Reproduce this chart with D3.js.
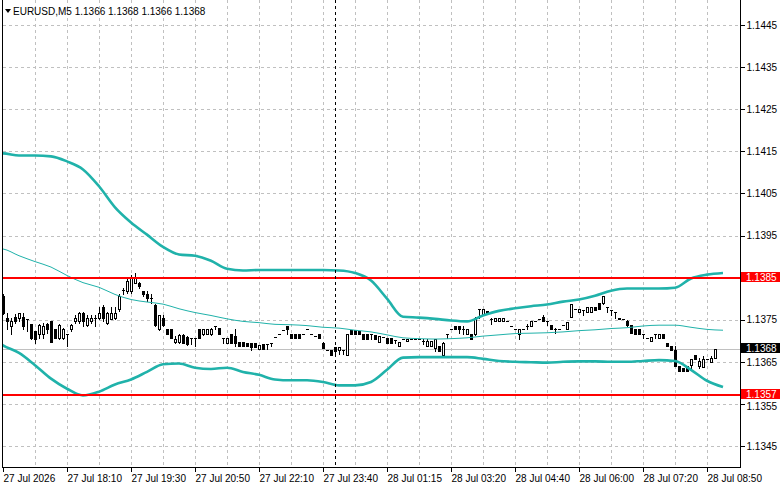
<!DOCTYPE html>
<html>
<head>
<meta charset="utf-8">
<script src="https://cdnjs.cloudflare.com/ajax/libs/d3/7.8.5/d3.min.js"></script>
<style>
  html, body { margin: 0; padding: 0; background: #fff; }
  svg { display: block; font-family: "Liberation Sans", Arial, sans-serif; }
</style>
</head>
<body>
<svg id="chart" width="781" height="489"></svg>
<script>
// EURUSD M5 bars: [open, high, low, close]
var candles = [
	[1.13807,1.13810,1.13764,1.13767],[1.13755,1.13767,1.13729,1.13748],[1.13736,1.13755,1.13717,1.13748],
	[1.13757,1.13764,1.13743,1.13748],[1.13755,1.13767,1.13748,1.13767],[1.13757,1.13767,1.13729,1.13736],
	[1.13752,1.13752,1.13724,1.13752],[1.13740,1.13740,1.13705,1.13707],[1.13724,1.13724,1.13695,1.13705],
	[1.13717,1.13740,1.13707,1.13738],[1.13717,1.13743,1.13707,1.13736],[1.13740,1.13743,1.13719,1.13729],
	[1.13748,1.13748,1.13698,1.13698],[1.13729,1.13729,1.13707,1.13707],[1.13707,1.13740,1.13705,1.13738],
	[1.13707,1.13731,1.13705,1.13729],[1.13717,1.13717,1.13688,1.13717],[1.13729,1.13740,1.13724,1.13738],
	[1.13748,1.13760,1.13743,1.13755],[1.13748,1.13769,1.13743,1.13767],[1.13767,1.13769,1.13736,1.13748],
	[1.13738,1.13760,1.13736,1.13755],[1.13748,1.13760,1.13743,1.13755],[1.13755,1.13760,1.13736,1.13755],
	[1.13755,1.13779,1.13752,1.13767],[1.13779,1.13786,1.13748,1.13755],[1.13743,1.13769,1.13740,1.13767],
	[1.13752,1.13779,1.13752,1.13767],[1.13755,1.13779,1.13752,1.13767],[1.13776,1.13810,1.13771,1.13807],
	[1.13821,1.13826,1.13812,1.13821],[1.13819,1.13850,1.13814,1.13843],[1.13819,1.13855,1.13814,1.13848],
	[1.13838,1.13860,1.13836,1.13848],[1.13838,1.13840,1.13826,1.13829],[1.13819,1.13819,1.13807,1.13810],
	[1.13812,1.13817,1.13795,1.13802],[1.13802,1.13810,1.13790,1.13802],[1.13786,1.13788,1.13736,1.13738],
	[1.13729,1.13762,1.13726,1.13760],[1.13755,1.13760,1.13736,1.13738],[1.13729,1.13729,1.13717,1.13717],
	[1.13729,1.13729,1.13707,1.13707],[1.13698,1.13712,1.13695,1.13705],[1.13698,1.13717,1.13695,1.13714],
	[1.13714,1.13717,1.13695,1.13695],[1.13710,1.13712,1.13690,1.13693],[1.13707,1.13707,1.13693,1.13707],
	[1.13707,1.13707,1.13688,1.13707],[1.13729,1.13729,1.13707,1.13707],[1.13717,1.13729,1.13714,1.13729],
	[1.13717,1.13729,1.13717,1.13729],[1.13717,1.13731,1.13714,1.13729],[1.13736,1.13736,1.13729,1.13736],
	[1.13731,1.13731,1.13717,1.13717],[1.13707,1.13707,1.13695,1.13707],[1.13695,1.13707,1.13695,1.13707],
	[1.13717,1.13717,1.13695,1.13695],[1.13712,1.13729,1.13688,1.13695],[1.13698,1.13698,1.13688,1.13688],
	[1.13698,1.13698,1.13688,1.13688],[1.13695,1.13695,1.13688,1.13688],[1.13695,1.13695,1.13679,1.13686],
	[1.13695,1.13695,1.13686,1.13686],[1.13681,1.13690,1.13681,1.13690],[1.13693,1.13693,1.13681,1.13681],
	[1.13693,1.13693,1.13681,1.13693],[1.13695,1.13695,1.13688,1.13695],[1.13710,1.13710,1.13710,1.13710],
	[1.13717,1.13717,1.13717,1.13717],[1.13726,1.13726,1.13726,1.13726],[1.13736,1.13736,1.13717,1.13729],
	[1.13717,1.13717,1.13707,1.13707],[1.13717,1.13717,1.13707,1.13707],[1.13717,1.13717,1.13707,1.13707],
	[1.13717,1.13717,1.13717,1.13717],[1.13729,1.13729,1.13729,1.13729],[1.13717,1.13717,1.13717,1.13717],
	[1.13712,1.13712,1.13712,1.13712],[1.13717,1.13717,1.13707,1.13707],[1.13695,1.13698,1.13683,1.13683],
	[1.13679,1.13679,1.13679,1.13679],[1.13679,1.13679,1.13667,1.13667],[1.13676,1.13686,1.13667,1.13686],
	[1.13679,1.13686,1.13669,1.13686],[1.13679,1.13679,1.13669,1.13679],[1.13667,1.13717,1.13667,1.13717],
	[1.13726,1.13726,1.13717,1.13717],[1.13726,1.13726,1.13717,1.13717],[1.13724,1.13724,1.13717,1.13717],
	[1.13717,1.13717,1.13705,1.13705],[1.13717,1.13717,1.13705,1.13705],[1.13717,1.13717,1.13705,1.13717],
	[1.13714,1.13714,1.13705,1.13705],[1.13698,1.13712,1.13698,1.13712],[1.13710,1.13710,1.13710,1.13710],
	[1.13707,1.13707,1.13695,1.13695],[1.13707,1.13707,1.13695,1.13695],[1.13702,1.13702,1.13695,1.13702],
	[1.13688,1.13698,1.13688,1.13698],[1.13705,1.13705,1.13705,1.13705],[1.13700,1.13705,1.13700,1.13705],
	[1.13705,1.13705,1.13705,1.13705],[1.13705,1.13705,1.13705,1.13705],[1.13705,1.13705,1.13705,1.13705],
	[1.13700,1.13705,1.13693,1.13700],[1.13688,1.13705,1.13688,1.13700],[1.13688,1.13700,1.13688,1.13700],
	[1.13683,1.13705,1.13676,1.13705],[1.13688,1.13688,1.13676,1.13676],[1.13667,1.13698,1.13667,1.13695],
	[1.13717,1.13717,1.13707,1.13717],[1.13729,1.13729,1.13729,1.13729],[1.13736,1.13736,1.13729,1.13729],
	[1.13736,1.13736,1.13719,1.13729],[1.13729,1.13736,1.13717,1.13729],[1.13717,1.13729,1.13717,1.13729],
	[1.13717,1.13717,1.13705,1.13705],[1.13717,1.13757,1.13714,1.13755],[1.13776,1.13776,1.13755,1.13776],
	[1.13764,1.13776,1.13764,1.13776],[1.13771,1.13771,1.13764,1.13764],[1.13752,1.13755,1.13740,1.13752],
	[1.13748,1.13755,1.13748,1.13755],[1.13748,1.13755,1.13748,1.13755],[1.13748,1.13755,1.13748,1.13755],
	[1.13748,1.13748,1.13748,1.13748],[1.13736,1.13736,1.13736,1.13736],[1.13729,1.13729,1.13729,1.13729],
	[1.13717,1.13729,1.13705,1.13729],[1.13729,1.13729,1.13729,1.13729],[1.13736,1.13740,1.13729,1.13736],
	[1.13736,1.13748,1.13736,1.13748],[1.13748,1.13748,1.13748,1.13748],[1.13752,1.13752,1.13752,1.13752],
	[1.13757,1.13762,1.13748,1.13748],[1.13748,1.13748,1.13738,1.13748],[1.13738,1.13738,1.13729,1.13729],
	[1.13729,1.13731,1.13719,1.13729],[1.13729,1.13729,1.13729,1.13729],[1.13738,1.13738,1.13738,1.13738],
	[1.13729,1.13745,1.13729,1.13745],[1.13757,1.13788,1.13757,1.13788],[1.13776,1.13776,1.13776,1.13776],
	[1.13769,1.13776,1.13769,1.13776],[1.13774,1.13774,1.13762,1.13774],[1.13769,1.13779,1.13769,1.13779],
	[1.13769,1.13779,1.13769,1.13779],[1.13781,1.13781,1.13774,1.13774],[1.13790,1.13790,1.13776,1.13776],
	[1.13790,1.13807,1.13788,1.13807],[1.13779,1.13779,1.13769,1.13779],[1.13774,1.13774,1.13762,1.13774],
	[1.13769,1.13769,1.13755,1.13769],[1.13755,1.13755,1.13752,1.13752],[1.13752,1.13752,1.13752,1.13752],
	[1.13748,1.13750,1.13736,1.13738],[1.13738,1.13738,1.13719,1.13719],[1.13729,1.13729,1.13717,1.13717],
	[1.13729,1.13729,1.13717,1.13717],[1.13717,1.13717,1.13707,1.13717],[1.13707,1.13707,1.13707,1.13707],
	[1.13700,1.13710,1.13700,1.13710],[1.13717,1.13717,1.13707,1.13717],[1.13707,1.13717,1.13707,1.13717],
	[1.13717,1.13717,1.13707,1.13707],[1.13695,1.13695,1.13688,1.13688],[1.13688,1.13688,1.13679,1.13679],
	[1.13679,1.13688,1.13640,1.13640],[1.13640,1.13640,1.13629,1.13629],[1.13636,1.13636,1.13629,1.13629],
	[1.13640,1.13640,1.13629,1.13629],[1.13643,1.13657,1.13631,1.13657],[1.13667,1.13667,1.13657,1.13657],
	[1.13640,1.13660,1.13636,1.13652],[1.13638,1.13664,1.13638,1.13657],[1.13657,1.13657,1.13657,1.13657],
	[1.13650,1.13664,1.13650,1.13660],[1.13660,1.13680,1.13660,1.13680]
];

// Bollinger bands at these bar indices
var bandIdx = [-1, 0, 4, 8, 12, 16, 20, 24, 28, 32, 36, 40, 44, 48, 52, 56, 60, 64, 68, 72, 76, 80, 84, 88,
	92, 96, 100, 104, 108, 112, 116, 120, 124, 128, 132, 136, 140, 144, 148, 152, 156, 160, 164, 168, 172, 176, 180];
var bandUpper = [1.14145, 1.14145, 1.14140, 1.14140, 1.14138, 1.14126, 1.14107, 1.14067, 1.14017, 1.13981,
	1.13952, 1.13923, 1.13905, 1.13902, 1.13890, 1.13871, 1.13867, 1.13868, 1.13868, 1.13868,
	1.13868, 1.13868, 1.13867, 1.13861, 1.13843, 1.13800, 1.13757, 1.13755, 1.13752, 1.13748,
	1.13746, 1.13760, 1.13771, 1.13777, 1.13782, 1.13786, 1.13793, 1.13798, 1.13807, 1.13819,
	1.13824, 1.13824, 1.13824, 1.13826, 1.13848, 1.13857, 1.13861];
var bandMiddle = [1.13919, 1.13918, 1.13902, 1.13888, 1.13875, 1.13855, 1.13838, 1.13827, 1.13810, 1.13798,
	1.13792, 1.13787, 1.13776, 1.13767, 1.13760, 1.13752, 1.13746, 1.13743, 1.13739, 1.13738,
	1.13736, 1.13732, 1.13730, 1.13725, 1.13721, 1.13714, 1.13707, 1.13705, 1.13704, 1.13705,
	1.13707, 1.13711, 1.13714, 1.13717, 1.13718, 1.13719, 1.13721, 1.13724, 1.13726, 1.13729,
	1.13731, 1.13735, 1.13737, 1.13737, 1.13732, 1.13727, 1.13725];
var bandLower = [1.13695, 1.13689, 1.13671, 1.13642, 1.13610, 1.13586, 1.13570, 1.13579, 1.13596, 1.13608,
	1.13626, 1.13644, 1.13646, 1.13636, 1.13633, 1.13636, 1.13626, 1.13619, 1.13608, 1.13606,
	1.13606, 1.13602, 1.13594, 1.13594, 1.13602, 1.13631, 1.13660, 1.13661, 1.13661, 1.13661,
	1.13661, 1.13657, 1.13652, 1.13650, 1.13649, 1.13648, 1.13650, 1.13651, 1.13651, 1.13650,
	1.13650, 1.13652, 1.13654, 1.13652, 1.13631, 1.13605, 1.13590];

var timeIdx = [0, 16, 32, 48, 64, 80, 96, 112, 128, 144, 160, 176];
var timeLabels = ["27 Jul 2026", "27 Jul 18:10", "27 Jul 19:30", "27 Jul 20:50", "27 Jul 22:10", "27 Jul 23:40",
	"28 Jul 01:15", "28 Jul 03:20", "28 Jul 04:40", "28 Jul 06:00", "28 Jul 07:20", "28 Jul 08:50"];
var priceTicks = [1.1445, 1.1435, 1.1425, 1.1415, 1.1405, 1.1395, 1.1385, 1.1375, 1.1365, 1.1355, 1.1345];
var levels = [1.1385, 1.1357];
var lastPrice = 1.1368;
var markerIdx = 83;
var title = "EURUSD,M5  1.1366 1.1368 1.1366 1.1368";

function drawChart() {
	var svg = d3.select("#chart"),
		pLeft = 2, pRight = 740, pTop = 0, pBottom = 467;

	var x = d3.scaleLinear().domain([0, 184]).range([3, 739]);
	var y = d3.scaleLinear().domain([1.1345, 1.1445]).range([446, 25]);
	var py = function(p) { return Math.round(y(p)) + 0.5; };

	svg.append("defs").append("clipPath").attr("id", "plot")
		.append("rect").attr("x", pLeft + 1).attr("y", pTop).attr("width", pRight - pLeft - 1).attr("height", pBottom - pTop);

	// grid
	var grid = svg.append("g").attr("stroke", "#c0c0c0").attr("stroke-dasharray", "3,3").attr("shape-rendering", "crispEdges");
	grid.selectAll(".gy").data(priceTicks).enter().append("line")
		.attr("x1", pLeft + 1).attr("x2", pRight).attr("y1", py).attr("y2", py);
	grid.selectAll(".gx").data(d3.range(8, 184, 8)).enter().append("line")
		.attr("x1", function(d) { return x(d) + 0.5; }).attr("x2", function(d) { return x(d) + 0.5; })
		.attr("y1", pTop).attr("y2", pBottom);

	// last price line
	svg.append("line").attr("x1", pLeft + 1).attr("x2", pRight).attr("y1", py(lastPrice)).attr("y2", py(lastPrice))
		.attr("stroke", "#c0c0c0").attr("shape-rendering", "crispEdges");

	// candles
	var bars = svg.append("g").attr("clip-path", "url(#plot)").attr("shape-rendering", "crispEdges");
	candles.forEach(function(c, i) {
		var cx = Math.round(x(i));
		var o = Math.round(y(c[0])), h = Math.round(y(c[1])), l = Math.round(y(c[2])), cl = Math.round(y(c[3]));
		if (l > h) {
			bars.append("line").attr("x1", cx + 0.5).attr("x2", cx + 0.5).attr("y1", h).attr("y2", l + 1).attr("stroke", "#000");
		}
		if (o === cl) {
			bars.append("line").attr("x1", cx - 1).attr("x2", cx + 2).attr("y1", o + 0.5).attr("y2", o + 0.5).attr("stroke", "#000");
		} else if (cl < o) {
			bars.append("rect").attr("x", cx - 0.5).attr("y", cl + 0.5).attr("width", 2).attr("height", o - cl)
				.attr("fill", "#fff").attr("stroke", "#000");
		} else {
			bars.append("rect").attr("x", cx - 1).attr("y", o).attr("width", 3).attr("height", cl - o + 1).attr("fill", "#000");
		}
	});

	// bollinger bands
	var bands = svg.append("g").attr("clip-path", "url(#plot)").attr("fill", "none").attr("stroke", "#20b2aa");
	function bandLine(vals) {
		return d3.line().x(function(d, i) { return x(bandIdx[i]); }).y(function(d) { return y(d); })
			.curve(d3.curveMonotoneX)(vals);
	}
	bands.append("path").attr("d", bandLine(bandUpper)).attr("stroke-width", 2.6);
	bands.append("path").attr("d", bandLine(bandLower)).attr("stroke-width", 2.6);
	bands.append("path").attr("d", bandLine(bandMiddle)).attr("stroke-width", 1);

	// horizontal levels
	svg.selectAll(".lvl").data(levels).enter().append("line")
		.attr("x1", pLeft + 1).attr("x2", pRight).attr("y1", function(d) { return Math.round(y(d)); })
		.attr("y2", function(d) { return Math.round(y(d)); })
		.attr("stroke", "#ff0000").attr("stroke-width", 2).attr("shape-rendering", "crispEdges");

	// vertical marker
	svg.append("line").attr("x1", x(markerIdx) + 0.5).attr("x2", x(markerIdx) + 0.5).attr("y1", pTop).attr("y2", pBottom)
		.attr("stroke", "#000").attr("stroke-dasharray", "3,3").attr("shape-rendering", "crispEdges");

	// frame
	svg.append("path").attr("d", "M" + (pLeft + 0.5) + "," + pTop + "V" + (pBottom + 0.5) + "H" + (pRight + 0.5) + "V" + pTop)
		.attr("fill", "none").attr("stroke", "#000").attr("shape-rendering", "crispEdges");

	// time axis
	var xAxis = svg.append("g").attr("transform", "translate(0," + (pBottom + 0.5) + ")")
		.call(d3.axisBottom(x).tickValues(timeIdx).tickSize(4).tickSizeOuter(0)
			.tickFormat(function(d, i) { return timeLabels[i]; }));
	xAxis.select(".domain").remove();
	xAxis.selectAll(".tick line").attr("stroke", "#000").attr("shape-rendering", "crispEdges");
	xAxis.selectAll(".tick text").attr("text-anchor", "start").attr("x", 0).attr("y", 7)
		.attr("fill", "#000").style("font-size", "10px").style("font-family", "Liberation Sans, Arial, sans-serif");

	// price axis
	var yAxis = svg.append("g").attr("transform", "translate(" + (pRight + 0.5) + ",0)")
		.call(d3.axisRight(y).tickValues(priceTicks).tickSize(4).tickSizeOuter(0).tickFormat(d3.format(".4f")));
	yAxis.select(".domain").remove();
	yAxis.selectAll(".tick line").attr("stroke", "#000").attr("shape-rendering", "crispEdges");
	yAxis.selectAll(".tick text").attr("x", 6).attr("fill", "#000")
		.style("font-size", "10px").style("font-family", "Liberation Sans, Arial, sans-serif");
	// the 1.1355 label sits just under the level tag, as in the terminal
	yAxis.selectAll(".tick text").filter(function(d) { return d === 1.1355; }).attr("dy", "0.55em");

	// price tags
	var tags = levels.map(function(d) { return {p: d, bg: "#ff0000"}; }).concat([{p: lastPrice, bg: "#000"}]);
	var tag = svg.selectAll(".tag").data(tags).enter().append("g")
		.attr("transform", function(d) { return "translate(" + (pRight + 1) + "," + Math.round(y(d.p)) + ")"; });
	tag.append("rect").attr("x", 0).attr("y", -6).attr("width", 39).attr("height", 10)
		.attr("fill", function(d) { return d.bg; });
	tag.append("text").attr("x", 5).attr("y", 3).attr("fill", "#fff").style("font-size", "10px")
		.text(function(d) { return d3.format(".4f")(d.p); });

	// title
	svg.append("path").attr("d", "M5,9H11L8,13Z").attr("fill", "#000");
	svg.append("text").attr("x", 13).attr("y", 15).attr("fill", "#000").style("font-size", "10px").text(title);
}

drawChart();
</script>
</body>
</html>
